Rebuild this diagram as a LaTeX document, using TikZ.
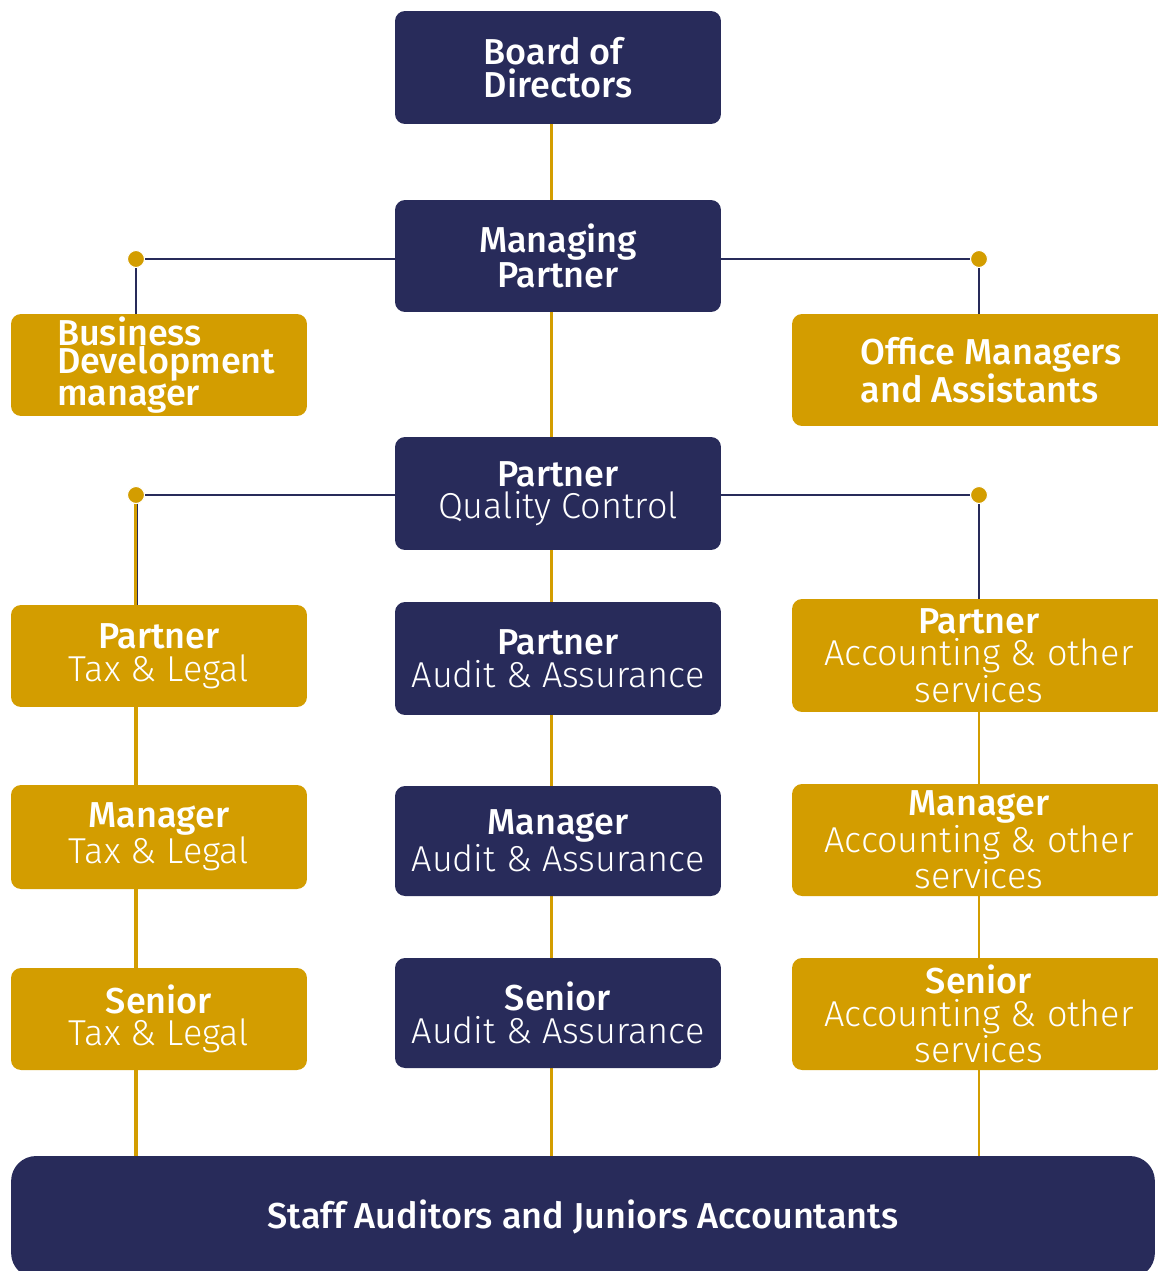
\documentclass[tikz,border=0pt]{standalone}
\usepackage{fontspec}
\setmainfont{Fira Sans Light}[BoldFont={Fira Sans Medium}]
\usetikzlibrary{positioning, backgrounds}

\definecolor{navy}{HTML}{282B5A}
\definecolor{gold}{HTML}{D39D00}

\begin{document}
\begin{tikzpicture}[x=0.02cm, y=-0.02cm,
	box/.style={rounded corners=0.2cm, inner sep=0pt, text=white, align=center,
		font=\fontsize{20.5}{18.5}\selectfont},
	navybox/.style={box, fill=navy},
	goldbox/.style={box, fill=gold},
	hub/.style={circle, fill=gold, draw=white, line width=0.6pt, inner sep=0pt, minimum size=0.34cm},
	link/.style={navy, line width=1.1pt},
	trunk/.style={gold, line width=1.7pt}]
	\useasboundingbox (0,0) rectangle (1158,1271);

	% middle column
	\node[navybox, align=left, minimum width=6.52cm, minimum height=2.26cm] (board) at (558,67.5) {\bfseries Board of\\\bfseries Directors};
	\node[navybox, minimum width=6.52cm, minimum height=2.24cm] (mp) at (558,256) {\bfseries Managing\\\bfseries Partner};
	\node[navybox, minimum width=6.52cm, minimum height=2.26cm] (qc) at (558,493.5) {\bfseries Partner\\Quality Control};
	\node[navybox, minimum width=6.52cm, minimum height=2.26cm] (paud) at (558,658.5) {\bfseries Partner\\Audit \& Assurance};
	\node[navybox, minimum width=6.52cm, minimum height=2.2cm] (maud) at (558,841) {\bfseries Manager\\Audit \& Assurance};
	\node[navybox, minimum width=6.52cm, minimum height=2.2cm] (saud) at (558,1013) {\bfseries Senior\\Audit \& Assurance};

	% left column
	\node[goldbox, align=left, text width=4.08cm, minimum width=5.92cm, minimum height=2.04cm,
		font=\fontsize{20.5}{16}\selectfont] (bd) at (159,365) {\bfseries Business\\\bfseries Development\\\bfseries manager};
	\node[goldbox, minimum width=5.92cm, minimum height=2.04cm] (ptax) at (159,656) {\bfseries Partner\\Tax \& Legal};
	\node[goldbox, minimum width=5.92cm, minimum height=2.08cm] (mtax) at (159,837) {\bfseries Manager\\Tax \& Legal};
	\node[goldbox, minimum width=5.92cm, minimum height=2.04cm] (stax) at (159,1019) {\bfseries Senior\\Tax \& Legal};

	% right column
	\node[goldbox, align=left, minimum width=7.96cm, minimum height=2.24cm] (om) at (991,370) {\bfseries Office Managers\\\bfseries and Assistants};
	\node[goldbox, minimum width=7.48cm, minimum height=2.26cm] (pacc) at (979,655.5) {\bfseries Partner\\Accounting \& other\\services};
	\node[goldbox, minimum width=7.48cm, minimum height=2.24cm] (macc) at (979,840) {\bfseries Manager\\Accounting \& other\\services};
	\node[goldbox, minimum width=7.48cm, minimum height=2.24cm] (sacc) at (979,1014) {\bfseries Senior\\Accounting \& other\\services};

	% bottom
	\node[navybox, rounded corners=0.5cm, minimum width=22.88cm, minimum height=2.44cm] (staff) at (583,1217) {\bfseries Staff Auditors and Juniors Accountants};

	% branch points
	\node[hub] (hbd) at (136,259) {};
	\node[hub] (hom) at (979,259) {};
	\node[hub] (htax) at (136,495) {};
	\node[hub] (hacc) at (979,495) {};

	\begin{scope}[on background layer]
		\draw[trunk] ([xshift=-0.14cm]board.south) -- ([xshift=-0.14cm]board.south |- staff.north);
		\draw[gold, line width=2.8pt] (htax) -- (htax |- staff.north);
		\draw[gold, line width=0.8pt] (pacc.south) -- (pacc.south |- staff.north);
		\draw[link] ([xshift=0.03cm]htax.center) -- ([xshift=0.03cm]htax |- ptax.north);
	\end{scope}

	\draw[link] (hbd) -- (hbd -| mp.west);
	\draw[link] (hbd) -- (hbd |- bd.north);
	\draw[link] (hom) -- (hom -| mp.east);
	\draw[link] (hom) -- (hom |- om.north);
	\draw[link] (htax) -- (htax -| qc.west);
	\draw[link] (hacc) -- (hacc -| qc.east);
	\draw[link] (hacc) -- (hacc |- pacc.north);
	\node[hub] at (hbd) {};
	\node[hub] at (hom) {};
	\node[hub] at (htax) {};
	\node[hub] at (hacc) {};
\end{tikzpicture}
\end{document}
